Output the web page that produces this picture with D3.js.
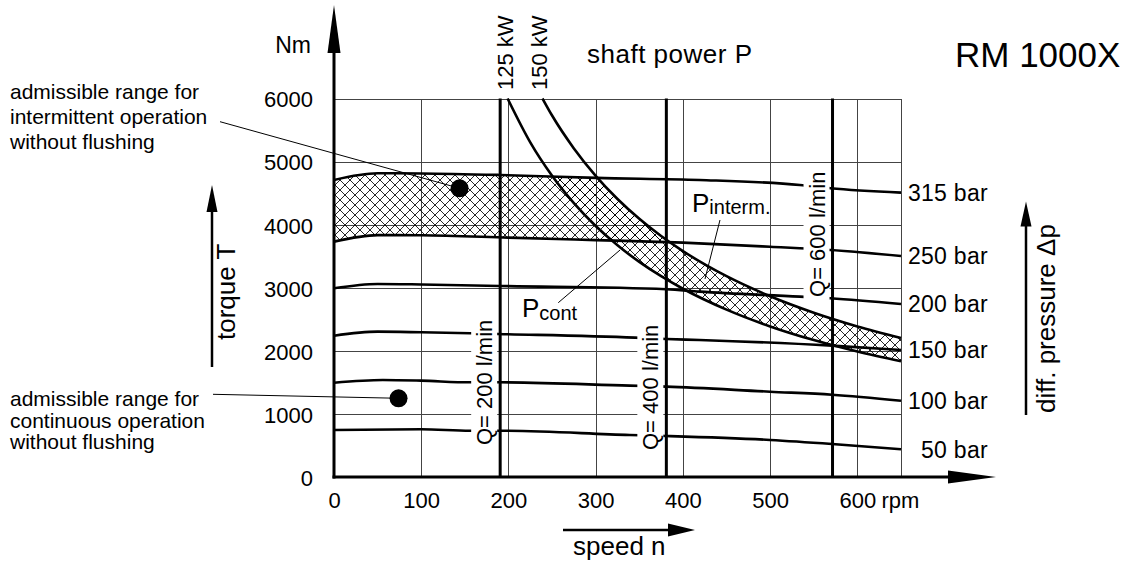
<!DOCTYPE html>
<html><head><meta charset="utf-8">
<script src="https://cdn.jsdelivr.net/npm/d3@7"></script>
<style>
body{margin:0;background:#fff}
svg{display:block}
text{font-family:"Liberation Sans",Arial,Helvetica,sans-serif;fill:#000}
</style>
</head><body>
<svg id="c" width="1131" height="563"></svg>
<script>
// ---------- data ----------
const speedTicks = [0, 100, 200, 300, 400, 500, 600];
const torqueTicks = [0, 1000, 2000, 3000, 4000, 5000, 6000];
const pressureLabels = ["315 bar", "250 bar", "200 bar", "150 bar", "100 bar", "50 bar"];
// [speed rpm, torque Nm]
const p315 = [[0,4709],[50,4815],[100,4812],[190,4788],[301,4741],[419,4709],[534,4630],[569,4578],[650,4508]];
const p250 = [[0,3731],[50,3835],[100,3832],[200,3795],[300,3755],[400,3715],[500,3650],[569,3599],[650,3504]];
const p200 = [[0,2992],[50,3060],[100,3052],[190,3028],[381,2976],[419,2938],[534,2859],[569,2833],[650,2743]];
const p150 = [[0,2240],[50,2304],[100,2294],[156,2278],[188,2267],[345,2209],[381,2188],[419,2172],[571,2082],[650,2014]];
const p100 = [[0,1495],[56,1538],[100,1527],[156,1501],[190,1501],[339,1448],[381,1432],[500,1352],[571,1305],[650,1210]];
const p50  = [[0,745],[100,756],[156,734],[190,734],[339,666],[381,650],[500,587],[571,523],[650,439]];
const pressureSeries = [p315, p250, p200, p150, p100, p50];

const powerLabels = ["125 kW", "150 kW"];
const power125 = [[199,6000],[225,5305],[250,4775],[275,4341],[300,3979],[325,3673],[350,3410],[375,3183],[400,2984],[450,2653],[500,2387],[550,2170],[600,1989],[650,1836]];
const power150 = [[239,6000],[250,5730],[275,5209],[300,4775],[325,4407],[350,4093],[375,3820],[400,3581],[450,3183],[500,2865],[550,2604],[600,2387],[650,2204]];

const flowLabels = ["Q= 200 l/min", "Q= 400 l/min", "Q= 600 l/min"];
const flowSpeeds = [190.5, 381, 571.5];

const dots = [[144,4577],[74,1248]];

// ---------- layout ----------
const svg = d3.select("#c");
const x = d3.scaleLinear().domain([0, 650]).range([334, 901]);
const y = d3.scaleLinear().domain([0, 6000]).range([477, 98.5]);
const FS = 22;

const line = d3.line().x(d => x(d[0])).y(d => y(d[1])).curve(d3.curveMonotoneX);

// ---------- defs ----------
const defs = svg.append("defs");
const pat = defs.append("pattern").attr("id", "hatch").attr("patternUnits", "userSpaceOnUse")
  .attr("width", 10).attr("height", 10);
pat.append("path")
  .attr("d", "M0,0L10,10M-1,9L1,11M9,-1L11,1M0,10L10,0M-1,1L1,-1M9,11L11,9")
  .attr("stroke", "#000").attr("stroke-width", 0.85).attr("fill", "none");

const [ymin, ymax] = [y(0), y(6000)];
function clipArea(id, data, below) {
  const cp = defs.append("clipPath").attr("id", id);
  const a = d3.area().x(d => x(d[0])).y0(below ? ymin + 5 : ymax - 5).y1(d => y(d[1])).curve(d3.curveMonotoneX);
  cp.append("path").attr("d", a(data));
  return cp;
}
clipArea("below315", p315, true);
clipArea("above250", p250, false);
clipArea("aboveP125", power125, false);
const cpb = clipArea("belowP150", power150, true);
cpb.append("rect").attr("x", x(0) - 5).attr("y", ymax - 5).attr("width", x(power150[0][0]) - x(0) + 5).attr("height", ymin - ymax + 10);

// ---------- grid ----------
const grid = svg.append("g").attr("stroke", "#444").attr("stroke-width", 1).attr("shape-rendering", "crispEdges");
speedTicks.slice(1).concat([650]).forEach(s => {
  grid.append("line").attr("x1", Math.round(x(s)) + 0.5).attr("x2", Math.round(x(s)) + 0.5).attr("y1", ymin).attr("y2", ymax);
});
torqueTicks.slice(1).forEach(t => {
  grid.append("line").attr("x1", x(0)).attr("x2", x(650)).attr("y1", Math.round(y(t)) + 0.5).attr("y2", Math.round(y(t)) + 0.5);
});

// ---------- hatch ----------
const plotRect = g => g.append("rect").attr("x", x(0)).attr("y", ymax).attr("width", x(650) - x(0)).attr("height", ymin - ymax).attr("fill", "url(#hatch)");
plotRect(svg.append("g").attr("clip-path", "url(#above250)")
  .append("g").attr("clip-path", "url(#below315)")
  .append("g").attr("clip-path", "url(#belowP150)"));
plotRect(svg.append("g").attr("clip-path", "url(#aboveP125)")
  .append("g").attr("clip-path", "url(#below315)")
  .append("g").attr("clip-path", "url(#belowP150)"));

// ---------- curves ----------
const curves = svg.append("g").attr("fill", "none").attr("stroke", "#000").attr("stroke-width", 2.6);
pressureSeries.forEach(s => curves.append("path").attr("d", line(s)));
[power125, power150].forEach(s => curves.append("path").attr("d", line(s)));

// pressure labels at right
pressureSeries.forEach((s, i) => {
  const last = s[s.length - 1];
  svg.append("text").attr("x", 988).attr("y", y(last[1])).attr("dy", "0.36em")
    .attr("text-anchor", "end").style("font-size", "23px").style("letter-spacing", "0.3px").text(pressureLabels[i]);
});

// ---------- Q lines & labels ----------
const flowLabelT = [507, 428, 2854];
flowSpeeds.forEach((q, i) => {
  const g = svg.append("g").attr("transform", `translate(${x(q) - 8},${y(flowLabelT[i])}) rotate(-90)`);
  const r = g.append("rect").attr("fill", "#fff");
  const t = g.append("text").style("font-size", FS + "px").text(flowLabels[i]);
  const b = t.node().getBBox();
  r.attr("x", b.x - 3).attr("y", b.y - 1).attr("width", b.width + 6).attr("height", b.height + 1);
});
flowSpeeds.forEach(q => {
  svg.append("line").attr("x1", x(q)).attr("x2", x(q)).attr("y1", ymin).attr("y2", ymax)
    .attr("stroke", "#000").attr("stroke-width", 3);
});

// power labels (rotated)
[power125, power150].forEach((s, i) => {
  svg.append("text").attr("transform", `translate(${x(s[0][0]) + 5},90) rotate(-90)`)
    .style("font-size", FS + "px").text(powerLabels[i]);
});

// ---------- axes ----------
const yAxis = svg.append("g").attr("transform", `translate(${x(0)},0)`)
  .call(d3.axisLeft(y).tickValues(torqueTicks).tickFormat(d3.format("d")).tickSize(0).tickPadding(21));
yAxis.select(".domain").remove();
yAxis.selectAll("text").attr("dy", "0.38em").style("font-size", FS + "px").style("font-family", null);

const xAxis = svg.append("g").attr("transform", `translate(0,${ymin})`)
  .call(d3.axisBottom(x).tickValues(speedTicks).tickFormat(d3.format("d")).tickSize(0).tickPadding(15));
xAxis.select(".domain").remove();
xAxis.selectAll("text").style("font-size", FS + "px").style("font-family", null);
svg.append("text").attr("x", x(600) + 24).attr("y", ymin + 30.7).style("font-size", FS + "px").text("rpm");

// axis lines with arrows
svg.append("line").attr("x1", x(0)).attr("x2", x(0)).attr("y1", ymin + 1.5).attr("y2", 40).attr("stroke", "#000").attr("stroke-width", 3);
svg.append("path").attr("d", `M${x(0)},5L${x(0) + 6.5},53L${x(0) - 6.5},53Z`).attr("fill", "#000");
svg.append("line").attr("x1", x(0) - 1.5).attr("x2", 960).attr("y1", ymin).attr("y2", ymin).attr("stroke", "#000").attr("stroke-width", 3);
svg.append("path").attr("d", `M996,${ymin}L948,${ymin - 6.5}L948,${ymin + 6.5}Z`).attr("fill", "#000");

svg.append("text").attr("x", 311).attr("y", 53).attr("text-anchor", "end").style("font-size", "23px").text("Nm");

// torque T
svg.append("line").attr("x1", 212).attr("x2", 212).attr("y1", 367).attr("y2", 205).attr("stroke", "#000").attr("stroke-width", 2.5);
svg.append("path").attr("d", "M212,185L217.5,212L206.5,212Z").attr("fill", "#000");
svg.append("text").attr("transform", "translate(235,340) rotate(-90)").style("font-size", "26px").text("torque T");

// diff pressure
svg.append("line").attr("x1", 1026).attr("x2", 1026).attr("y1", 415).attr("y2", 220).attr("stroke", "#000").attr("stroke-width", 2.5);
svg.append("path").attr("d", "M1026,201.5L1031.5,226.5L1020.5,226.5Z").attr("fill", "#000");
svg.append("text").attr("transform", "translate(1055,413) rotate(-90)").style("font-size", "26px").text("diff. pressure \u0394p");

// speed n
svg.append("line").attr("x1", 563).attr("x2", 675).attr("y1", 530).attr("y2", 530).attr("stroke", "#000").attr("stroke-width", 2.5);
svg.append("path").attr("d", "M695,530L668,523.5L668,536.5Z").attr("fill", "#000");
svg.append("text").attr("x", 573).attr("y", 555).style("font-size", "26px").text("speed n");

// titles
svg.append("text").attr("x", 587).attr("y", 63).style("font-size", "26px").style("letter-spacing", "0.5px").text("shaft power P");
svg.append("text").attr("x", 955).attr("y", 67).style("font-size", "35px").text("RM 1000X");

// P labels
const pc = svg.append("text").attr("x", x(215.5)).attr("y", y(2541)).style("font-size", "26px").text("P");
pc.append("tspan").attr("dy", 3).style("font-size", "20px").text("cont");
const pi = svg.append("text").attr("x", x(410.4)).attr("y", y(4206)).style("font-size", "26px").text("P");
pi.append("tspan").attr("dy", 2).style("font-size", "20px").text("interm.");
svg.append("line").attr("x1", x(257.1)).attr("y1", y(2763)).attr("x2", x(327.9)).attr("y2", y(3598)).attr("stroke", "#000").attr("stroke-width", 1);
svg.append("line").attr("x1", x(442.5)).attr("y1", y(4074)).attr("x2", x(425.3)).attr("y2", y(3139)).attr("stroke", "#000").attr("stroke-width", 1);

// annotations left
const ann1 = ["admissible range for", "intermittent operation", "without flushing"];
const ann2 = ["admissible range for", "continuous operation", "without flushing"];
ann1.forEach((s, i) => svg.append("text").attr("x", 10).attr("y", 99.3 + i * 25).style("font-size", "21px").text(s));
ann2.forEach((s, i) => svg.append("text").attr("x", 10).attr("y", 405.7 + i * 21.8).style("font-size", "21px").text(s));
svg.append("line").attr("x1", 220).attr("y1", 121.7).attr("x2", x(dots[0][0])).attr("y2", y(dots[0][1])).attr("stroke", "#000").attr("stroke-width", 1);
svg.append("line").attr("x1", 213).attr("y1", 394.3).attr("x2", x(dots[1][0])).attr("y2", y(dots[1][1])).attr("stroke", "#000").attr("stroke-width", 1);
dots.forEach(d => svg.append("circle").attr("cx", x(d[0])).attr("cy", y(d[1])).attr("r", 9).attr("fill", "#000"));
</script>
</body></html>
